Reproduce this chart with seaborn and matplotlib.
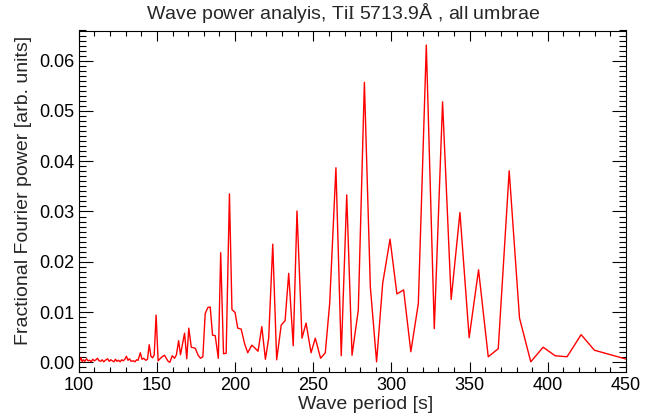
import matplotlib
matplotlib.use("Agg")
import matplotlib.pyplot as plt
import seaborn as sns
import pandas as pd
from matplotlib.ticker import MultipleLocator

# ---- data ----
period = [
    100.5, 101.5, 102.2, 103.0, 104.0, 105.0, 106.0, 107.0, 108.0, 109.0,
    110.0, 111.0, 112.0, 113.0, 114.0, 115.0, 116.0, 117.0, 118.5, 119.5,
    120.5, 121.5, 122.5, 123.5, 124.5, 125.5, 126.5, 127.5, 128.5, 129.5,
    130.5, 131.5, 132.5, 133.5, 135.0, 136.0, 137.0, 138.0, 139.4, 140.5,
    141.5, 143.0, 144.0, 145.1, 146.2, 147.3, 148.3, 149.5, 150.8, 152.0,
    153.3, 154.9, 156.0, 157.2, 158.3, 159.8, 161.3, 162.5, 163.9, 165.1,
    167.7, 169.1, 170.4, 172.0, 173.3, 174.5, 176.4, 177.9, 179.4, 180.9,
    182.6, 184.1, 185.6, 187.3, 189.3, 190.8, 192.6, 194.3, 196.4, 198.0,
    200.0, 201.7, 203.9, 206.0, 208.1, 210.7, 212.5, 214.7, 217.1, 219.4,
    221.5, 224.1, 226.6, 229.5, 232.0, 234.3, 237.2, 239.6, 242.8, 245.4,
    248.6, 251.3, 254.7, 257.7, 260.5, 264.5, 267.9, 271.4, 274.8, 278.8,
    282.7, 286.5, 290.5, 294.4, 299.1, 303.5, 307.8, 312.4, 317.2, 322.3,
    327.4, 332.7, 338.2, 343.8, 349.7, 355.7, 361.9, 368.3, 375.3, 381.9,
    389.1, 397.0, 404.7, 412.3, 421.3, 429.8, 450.5,
]
power = [
    0.0003, 0.0009, 0.0001, 0.0005, 0.0002, 0.0007, 0.0003, 0.0004, 0.0001, 0.0006,
    0.0003, 0.0005, 0.0008, 0.0003, 0.0002, 0.0005, 0.0001, 0.0004, 0.0007, 0.0002,
    0.0005, 0.0003, 0.0001, 0.0006, 0.0002, 0.0004, 0.0001, 0.0005, 0.0003, 0.0006,
    0.0012, 0.0004, 0.0007, 0.0002, 0.0003, 0.0001, 0.0005, 0.0004, 0.0019, 0.0006,
    0.0008, 0.0004, 0.0006, 0.0035, 0.0012, 0.0009, 0.0015, 0.0094, 0.0003, 0.0007,
    0.0011, 0.0014, 0.0008, 0.0002, 0.0000, 0.0013, 0.0008, 0.0015, 0.0043, 0.0015,
    0.0058, 0.0007, 0.0068, 0.0030, 0.0029, 0.0028, 0.0014, 0.0008, 0.0011, 0.0097,
    0.0109, 0.0110, 0.0054, 0.0053, 0.0008, 0.0218, 0.0017, 0.0018, 0.0335, 0.0105,
    0.0099, 0.0068, 0.0066, 0.0038, 0.0019, 0.0034, 0.0029, 0.0022, 0.0071, 0.0006,
    0.0048, 0.0235, 0.0005, 0.0074, 0.0083, 0.0177, 0.0033, 0.0301, 0.0048, 0.0078,
    0.0019, 0.0048, 0.0008, 0.0019, 0.0117, 0.0387, 0.0013, 0.0333, 0.0014, 0.0104,
    0.0557, 0.0150, 0.0001, 0.0157, 0.0245, 0.0136, 0.0144, 0.0021, 0.0117, 0.0631,
    0.0067, 0.0518, 0.0125, 0.0298, 0.0049, 0.0184, 0.0011, 0.0027, 0.0381, 0.0088,
    0.0001, 0.0030, 0.0013, 0.0011, 0.0055, 0.0024, 0.0006,
]

title = r"Wave power analyis, Ti$\mathrm{I}$ 5713.9Å , all umbrae"
xlabel = "Wave period [s]"
ylabel = "Fractional Fourier power [arb. units]"

df = pd.DataFrame({"period": period, "power": power})

sns.set_style("ticks")
plt.rcParams["font.family"] = ["Liberation Sans", "DejaVu Sans"]
plt.rcParams["mathtext.fontset"] = "custom"
plt.rcParams["mathtext.rm"] = "Liberation Serif"

fig = plt.figure(figsize=(6.65, 4.17), dpi=100)
ax = fig.add_axes([78.7 / 665, 1 - 371.7 / 417, (626 - 78.7) / 665, (371.7 - 30.5) / 417])

sns.lineplot(data=df, x="period", y="power", ax=ax, color="#ff0000",
             linewidth=1.0, estimator=None, sort=False)

ax.set_xlim(100, 450)
ax.set_ylim(-0.00187, 0.0660)
ax.xaxis.set_major_locator(MultipleLocator(50))
ax.xaxis.set_minor_locator(MultipleLocator(10))
ax.yaxis.set_major_locator(MultipleLocator(0.01))
ax.yaxis.set_minor_locator(MultipleLocator(0.001))
ax.set_yticklabels([f"{v:.2f}" for v in ax.get_yticks()])

ax.tick_params(axis="both", which="both", direction="in", top=True, right=True,
               color="black", width=0.8, labelsize=13, colors="black")
ax.tick_params(axis="x", which="major", length=7, pad=4)
ax.tick_params(axis="x", which="minor", length=3.5)
ax.tick_params(axis="y", which="major", length=10, pad=3)
ax.tick_params(axis="y", which="minor", length=5)
for s in ax.spines.values():
    s.set_visible(True)
    s.set_color("black")
    s.set_linewidth(0.8)

ax.set_title(title, fontsize=14, pad=8, x=0.484)
ax.set_xlabel(xlabel, fontsize=14, labelpad=1)
ax.set_ylabel(ylabel, fontsize=14, labelpad=5)
ax.xaxis.label.set_x(0.525)
ax.yaxis.label.set_y(0.53)

fig.savefig("out.png", dpi=100)
